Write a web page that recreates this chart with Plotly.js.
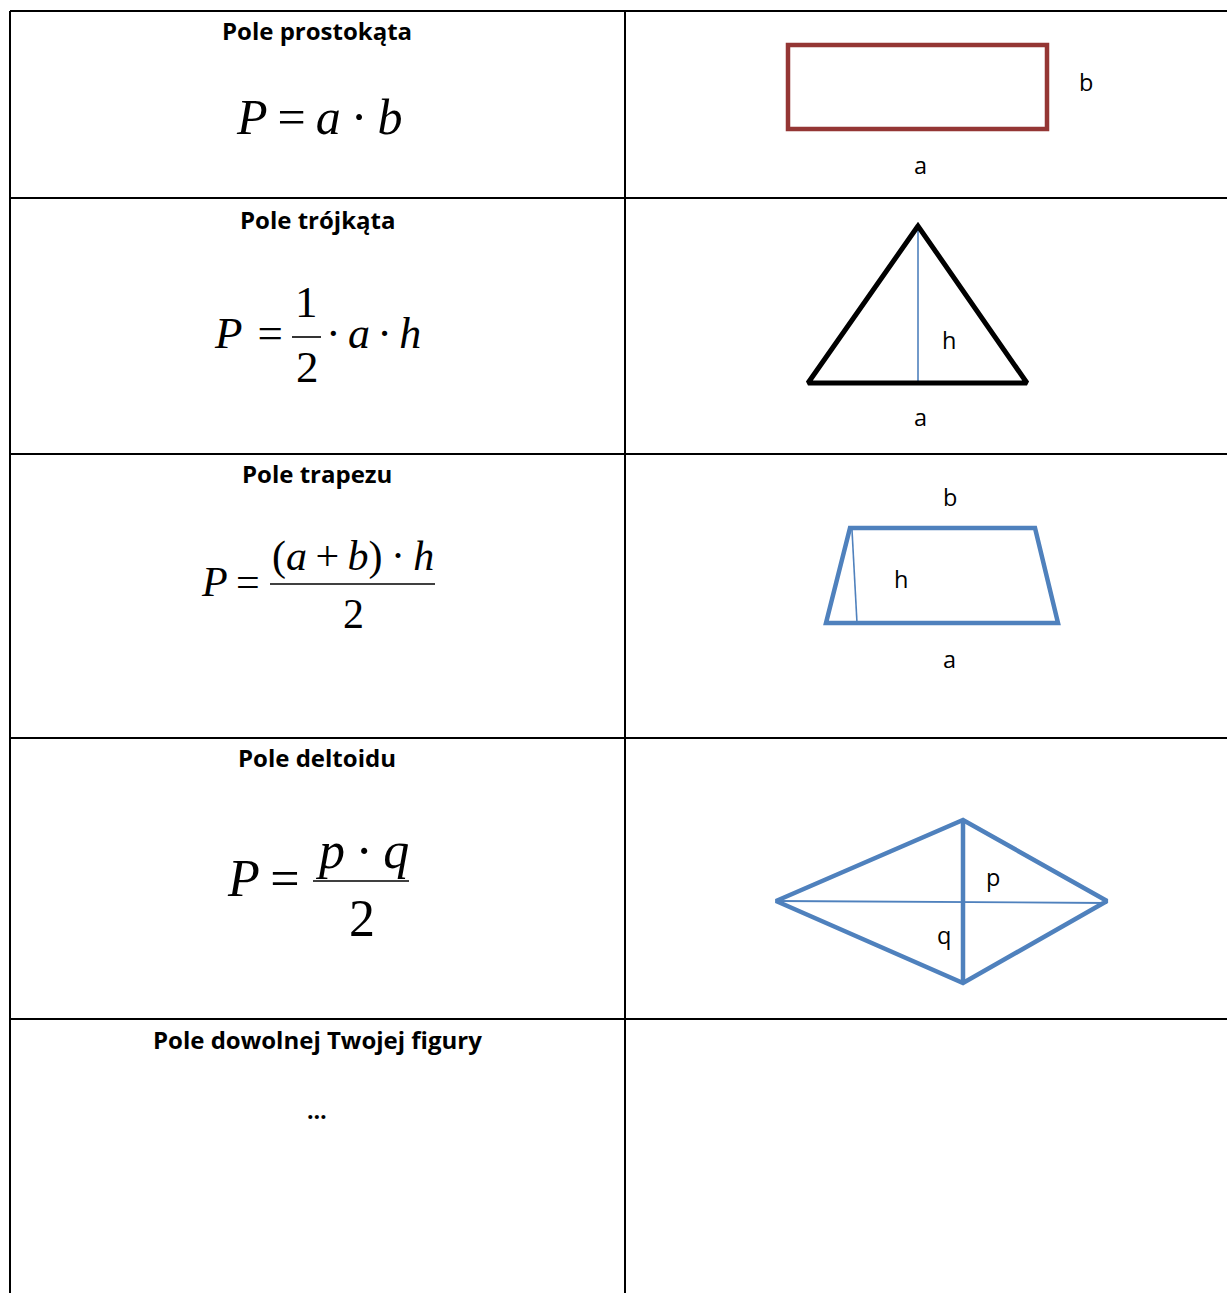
<!DOCTYPE html>
<html><head><meta charset="utf-8">
<script src="https://cdn.plot.ly/plotly-3.0.1.min.js"></script>
<style>body{margin:0;background:#fff}#c{width:1227px;height:1293px}</style>
</head><body><div id="c"></div>
<script>
// --- data ---
const rowTitles = ["Pole prostokąta", "Pole trójkąta", "Pole trapezu", "Pole deltoidu", "Pole dowolnej Twojej figury"];
const rowLines = [11, 198, 454, 738, 1019];
const colLines = [10, 625];
const rectX = [788, 1047, 1047, 788, 788, 1047];
const rectY = [45, 45, 129, 129, 45, 45];
const triX = [808, 918, 1027, 808, 918];
const triY = [383, 226, 383, 383, 226];
const triHX = [918, 918];
const triHY = [226, 383];
const trapX = [826, 850, 1035, 1058, 826, 850];
const trapY = [623, 528, 528, 623, 623, 528];
const trapHX = [852, 857];
const trapHY = [530, 623];
const kiteX = [776, 963, 1107, 963, 776, 963];
const kiteY = [901, 820, 901, 983, 901, 820];
const kiteDX = [963, 963, null, 776, 1107];
const kiteDY = [820, 983, null, 901, 903];
const figLabels = ["b", "a", "h", "a", "b", "h", "a", "p", "q"];
const figLabelX = [1086, 920, 949, 920, 950, 901, 949, 993, 944];
const figLabelY = [82, 165, 340, 417, 497, 579, 659, 877, 935];

// --- build ---
const W = 1227, H = 1293;
const tx = [], ty = [];
rowLines.forEach(y => { tx.push(colLines[0], W + 5, null); ty.push(y, y, null); });
colLines.forEach(x => { tx.push(x, x, null); ty.push(rowLines[0], H + 5, null); });

const blue = "#4F81BD";
const traces = [
  {x: tx, y: ty, mode: "lines", line: {color: "#000", width: 2}, hoverinfo: "skip"},
  {x: rectX, y: rectY, mode: "lines", line: {color: "#943634", width: 4.5}, hoverinfo: "skip"},
  {x: triHX, y: triHY, mode: "lines", line: {color: blue, width: 1.6}, hoverinfo: "skip"},
  {x: triX, y: triY, mode: "lines", line: {color: "#000", width: 5}, hoverinfo: "skip"},
  {x: trapHX, y: trapHY, mode: "lines", line: {color: blue, width: 1.6}, hoverinfo: "skip"},
  {x: trapX, y: trapY, mode: "lines", line: {color: blue, width: 4.5}, hoverinfo: "skip"},
  {x: kiteX, y: kiteY, mode: "lines", line: {color: blue, width: 4.5}, hoverinfo: "skip"},
  {x: kiteDX.slice(0, 2), y: kiteDY.slice(0, 2), mode: "lines", line: {color: blue, width: 4.5}, hoverinfo: "skip"},
  {x: kiteDX.slice(3), y: kiteDY.slice(3), mode: "lines", line: {color: blue, width: 1.8}, hoverinfo: "skip"}
];

const titleY = [30, 219, 473, 757, 1039];
const sans = "'Open Sans', 'Noto Sans', sans-serif";
const ann = [];
rowTitles.forEach((t, i) => ann.push({x: 317, y: titleY[i], text: "<b>" + t + "</b>",
  font: {family: sans, size: 24, color: "#000"}}));
ann.push({x: 317, y: 1110, text: "<b>…</b>", font: {family: sans, size: 23, color: "#000"}});

figLabels.forEach((t, i) => ann.push({x: figLabelX[i], y: figLabelY[i], text: t,
  font: {family: sans, size: 23.5, color: "#000"}}));

const serif = "'Liberation Serif', 'Times New Roman', serif";
function M(x, y, t, size, xa) {
  ann.push({x: x, y: y, text: t, xanchor: xa || "center", font: {family: serif, size: size, color: "#000"}});
}
// Row 1
M(319, 117, "<i>P</i>\u2009=\u2009<i>a</i>\u2009·\u2009<i>b</i>", 50);
// Row 2
M(285, 333, "<i>P</i>\u2004=", 45, "right");
M(306, 302, "1", 45); M(307, 367, "2", 45);
M(324, 333, "·\u2006<i>a</i>\u2006·\u2006<i>h</i>", 44, "left");
// Row 3
M(262, 582, "<i>P</i>\u2009=", 42, "right");
M(353, 556, "(<i>a</i>\u2009+\u2009<i>b</i>)\u2009·\u2009<i>h</i>", 42);
M(353, 614, "2", 42);
// Row 4
M(302, 878, "<i>P</i>\u2009=", 52, "right");
M(362, 850, "<i>p</i>\u2009·\u2009<i>q</i>", 52);
M(362, 918, "2", 52);

const bars = [[292, 321, 337], [270, 435, 584], [313, 409, 881]];
bars.forEach(b => traces.push({x: [b[0], b[1]], y: [b[2], b[2]], mode: "lines", line: {color: "#000", width: 1.6}, hoverinfo: "skip"}));

ann.forEach(a => { a.showarrow = false; a.xref = "x"; a.yref = "y"; if (!a.xanchor) a.xanchor = "center"; a.yanchor = "middle"; });

Plotly.newPlot("c", traces, {
  width: W, height: H, margin: {l: 0, r: 0, t: 0, b: 0},
  paper_bgcolor: "#fff", plot_bgcolor: "#fff", showlegend: false,
  xaxis: {range: [0, W], visible: false, fixedrange: true},
  yaxis: {range: [H, 0], visible: false, fixedrange: true},
  annotations: ann
}, {displayModeBar: false, staticPlot: true});
</script></body></html>
